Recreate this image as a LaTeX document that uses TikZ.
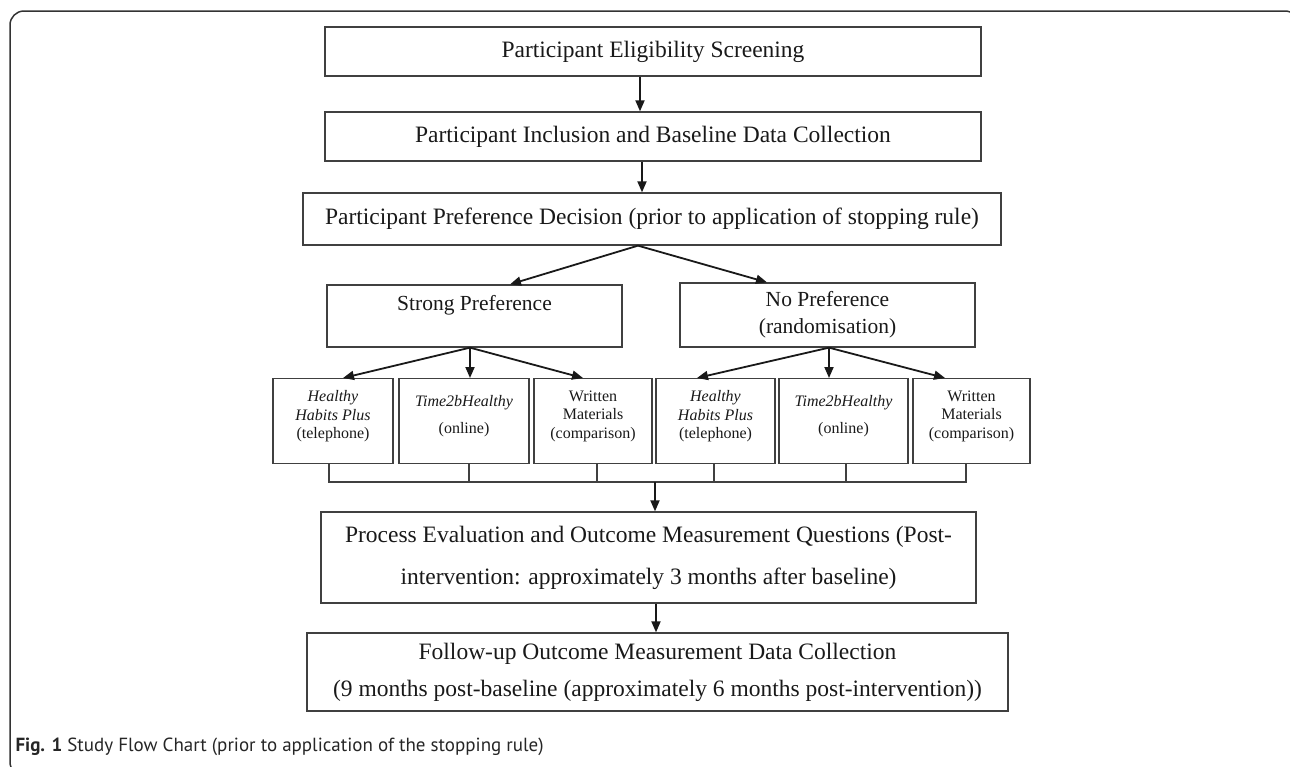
\documentclass[tikz,border=0pt]{standalone}
\usepackage{fontspec}
\setmainfont{Liberation Serif}
\newfontfamily\capfont{PT Sans}
\usetikzlibrary{arrows.meta}

\begin{document}
\begin{tikzpicture}[x=1pt, y=-1pt,
    box/.style={draw=black!75, line width=1.3pt, align=center, inner sep=0pt,
        text=black!90, font=\fontsize{23.5}{28}\selectfont},
    midbox/.style={box, font=\fontsize{21.5}{27}\selectfont},
    smallbox/.style={box, anchor=north, minimum height=85pt, text depth=13pt,
        font=\fontsize{16}{18.5}\selectfont},
    arr/.style={-{Triangle[length=11pt,width=9pt]}, line width=1.8pt, black!90},
    conn/.style={line width=1.3pt, black!75}]
        \useasboundingbox (0,0) rectangle (1290,766);
        \clip (0,0) rectangle (1290,766);

        % outer frame
        \draw[line width=1.5pt, black!80, rounded corners=14pt] (10,11) rectangle (1299,776);

        % top of the flow
        \node[box, minimum width=656pt, minimum height=49pt] (elig) at (653,51.5) {Participant Eligibility Screening};
        \node[box, minimum width=656pt, minimum height=49pt] (incl) at (653,136.5) {Participant Inclusion and Baseline Data Collection};
        \node[box, minimum width=698pt, minimum height=52pt] (decide) at (652,219) {Participant Preference Decision (prior to application of stopping rule)};

        % preference groups
        \node[midbox, minimum width=295pt, minimum height=62pt] (strong) at (474.5,316) {Strong Preference\\\mbox{}};
        \node[midbox, minimum width=295pt, minimum height=64pt] (nopref) at (827.5,315) {No Preference\\(randomisation)};

        % intervention arms
        \node[smallbox, minimum width=120pt] (hhp1) at (333,378) {\textit{Healthy}\\\textit{Habits Plus}\\(telephone)};
        \node[smallbox, minimum width=130pt] (t2b1) at (464,378) {\textit{Time2bHealthy}\\[9pt](online)};
        \node[smallbox, minimum width=118pt] (wm1) at (593,378) {Written\\Materials\\(comparison)};
        \node[smallbox, minimum width=119pt] (hhp2) at (715.5,378) {\textit{Healthy}\\\textit{Habits Plus}\\(telephone)};
        \node[smallbox, minimum width=129pt] (t2b2) at (843.5,378) {\textit{Time2bHealthy}\\[9pt](online)};
        \node[smallbox, minimum width=117pt] (wm2) at (971.5,378) {Written\\Materials\\(comparison)};

        % outcome stages
        \node[box, minimum width=655pt, minimum height=91pt] (proc) at (648.5,557.5) {Process Evaluation and Outcome Measurement Questions (Post-\\[14pt]intervention: approximately 3 months after baseline)};
        \node[box, minimum width=701pt, minimum height=78pt] (follow) at (657.5,672) {Follow-up Outcome Measurement Data Collection\\[9pt](9 months post-baseline (approximately 6 months post-intervention))};

        % caption
        \node[anchor=west, text=black!85, font=\capfont\fontsize{19}{22}\selectfont] (cap) at (12,747) {\textbf{Fig. 1} Study Flow Chart (prior to application of the stopping rule)};

        % arrows
        \draw[arr] ([xshift=-13pt]elig.south) -- ([xshift=-13pt]incl.north);
        \draw[arr] ([xshift=-11pt]incl.south) -- ([xshift=-10pt]decide.north);
        \draw[arr] ([xshift=-14pt]decide.south) -- ([xshift=35.5pt]strong.north);
        \draw[arr] ([xshift=-14pt]decide.south) -- ([xshift=-60.5pt]nopref.north);

        \draw[arr] ([xshift=-4.5pt]strong.south) -- ([xshift=10pt]hhp1.north);
        \draw[arr] ([xshift=-4.5pt]strong.south) -- ([xshift=-4.5pt]strong.south |- t2b1.north);
        \draw[arr] ([xshift=-4.5pt]strong.south) -- ([xshift=-10pt]wm1.north);
        \draw[arr] ([xshift=1.5pt]nopref.south) -- ([xshift=-18.5pt]hhp2.north);
        \draw[arr] ([xshift=1.5pt]nopref.south) -- ([xshift=1.5pt]nopref.south |- t2b2.north);
        \draw[arr] ([xshift=1.5pt]nopref.south) -- ([xshift=-26.5pt]wm2.north);

        % joining lines under the arms
        \coordinate (bus) at (655,482);
        \draw[conn] ([xshift=-4pt]hhp1.south) |- (bus) -| ([xshift=-5.5pt]wm2.south);
        \foreach \n/\s in {t2b1/5, wm1/4, hhp2/-1.5, t2b2/2.5}
            \draw[conn] ([xshift=\s pt]\n.south) -- ([xshift=\s pt]\n.south |- bus);

        \draw[arr] (bus) -- (bus |- proc.north);
        \draw[arr] ([xshift=7.5pt]proc.south) -- ([xshift=7.5pt]proc.south |- follow.north);
    \end{tikzpicture}
\end{document}
